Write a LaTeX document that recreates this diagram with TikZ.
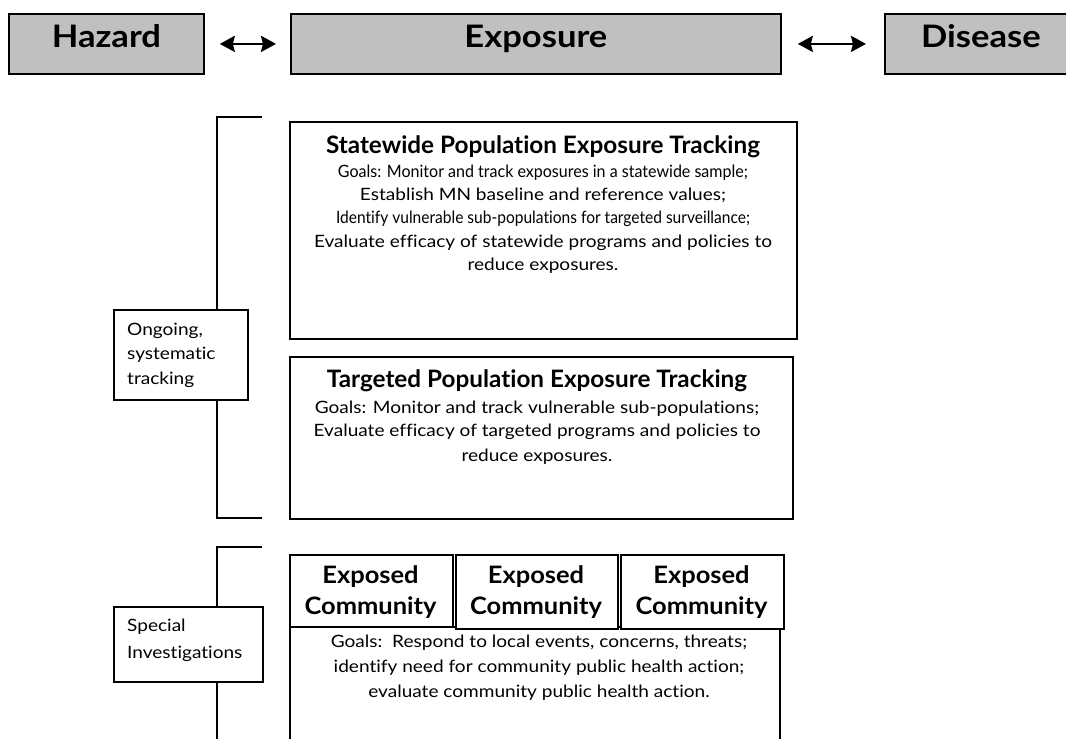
\documentclass[tikz,border=0pt]{standalone}
\usepackage{fontspec}
\setmainfont{Lato}[Ligatures=NoCommon]
\usepackage{graphicx}
\usetikzlibrary{arrows.meta}
\definecolor{topgray}{RGB}{192,192,192}
\newsavebox\measbx
\newlength\measw
\newcommand\bodyf{\fontsize{17}{20}\selectfont}
\newcommand\headf{\fontsize{24}{28}\selectfont\bfseries}
\newcommand\topf{\fontsize{31}{36}\selectfont\bfseries}
\newcommand\comf{\fontsize{24}{28}\selectfont\bfseries}
\newcommand\bl[1]{\scalebox{\bsx}[1]{\bodyf #1}}
\newcommand\hd[1]{\scalebox{\hsx}[1]{\headf #1}}
\newcommand\tp[1]{\scalebox{\tsx}[1]{\topf #1}}
\newcommand\cm[1]{\scalebox{\csx}[1]{\comf #1}}
\newcommand\fitl[2]{\resizebox{#1pt}{\height}{\bodyf #2}}
\newcommand\mksc[3]{\sbox\measbx{#2}\setlength\measw{\wd\measbx}\pgfmathparse{#3/\measw}\xdef#1{\pgfmathresult}}
\begin{document}
\mksc\bsx{\bodyf Evaluate efficacy of statewide programs and policies to}{458}%
\mksc\hsx{\headf Statewide Population Exposure Tracking}{434}%
\mksc\tsx{\topf Exposure}{143}%
\mksc\csx{\comf Community}{132}%
\begin{tikzpicture}[x=1pt,y=-1pt,
  topbox/.style={draw=black,line width=1.8pt,fill=topgray,anchor=north west,inner sep=0,text height=22pt,text depth=14pt},
  box/.style={draw=black,line width=1.5pt,fill=white,anchor=north west,inner sep=0},
  txt/.style={anchor=base,inner sep=0},
  ltxt/.style={anchor=base west,inner sep=0},
  link/.style={line width=2.7pt,{Stealth[length=15pt,width=16pt,inset=2pt]}-{Stealth[length=15pt,width=16pt,inset=2pt]}},
  brk/.style={line width=1.5pt}]
\useasboundingbox (0,0) rectangle (1066,739);
\fill[white] (0,0) rectangle (1066,739);

% top row
\node[topbox,minimum width=195pt,minimum height=60pt] (haz) at (8,13) {\tp{Hazard}};
\node[topbox,minimum width=490pt,minimum height=60pt] (exp) at (290,13) {\tp{Exposure}};
\node[topbox,minimum width=192pt,minimum height=60pt] (dis) at (884,13) {\tp{Disease}};
\draw[link] ([xshift=15pt]haz.east) -- ([xshift=-14pt]exp.west);
\draw[link] ([xshift=16pt]exp.east) -- ([xshift=-18pt]dis.west);

% brackets
\coordinate (b1t) at (262,117);
\coordinate (b1b) at (262,518);
\coordinate (b2t) at (262,547);
\coordinate (b2b) at (217,745);
\draw[brk] (b1t) -- (217,117) -- (217,518) -- (b1b);
\draw[brk] (b2t) -- (217,547) -- (b2b);

% side labels
\node[box,minimum width=134pt,minimum height=90pt] (ong) at (113,309) {};
\node[ltxt] (ong1) at (127,335) {\bl{Ongoing,}};
\node[ltxt] (ong2) at (127,359) {\bl{systematic}};
\node[ltxt] (ong3) at (127,384) {\bl{tracking}};
\node[box,minimum width=149pt,minimum height=75pt] (spc) at (113,606) {};
\node[ltxt] (spc1) at (127,631) {\bl{Special}};
\node[ltxt] (spc2) at (127,658) {\bl{Investigations}};

% statewide
\node[box,minimum width=507pt,minimum height=217pt] (sw) at (289,121) {};
\node[txt] (s0) at (543,153) {\hd{Statewide Population Exposure Tracking}};
\node[txt] (s1) at (543,177) {\fitl{410}{Goals: Monitor and track exposures in a statewide sample;}};
\node[txt] (s2) at (543,200) {\bl{Establish MN baseline and reference values;}};
\node[txt] (s3) at (543,223) {\fitl{414}{Identify vulnerable sub-populations for targeted surveillance;}};
\node[txt] (s4) at (543,247) {\bl{Evaluate efficacy of statewide programs and policies to}};
\node[txt] (s5) at (543,270) {\bl{reduce exposures.}};

% targeted
\node[box,minimum width=503pt,minimum height=162pt] (tg) at (289,356) {};
\node[txt] (t0) at (537,387) {\hd{Targeted Population Exposure Tracking}};
\node[txt] (t1) at (537,413) {\bl{Goals: Monitor and track vulnerable sub-populations;}};
\node[txt] (t2) at (537,436) {\bl{Evaluate efficacy of targeted programs and policies to}};
\node[txt] (t3) at (537,461) {\bl{reduce exposures.}};

% community
\node[box,minimum width=490pt,minimum height=134pt] (cg) at (289,626) {};
\node[box,minimum width=163pt,minimum height=72pt] (c1) at (289,554) {};
\node[box,minimum width=162pt,minimum height=74pt] (c2) at (455,554) {};
\node[box,minimum width=163pt,minimum height=74pt] (c3) at (620,554) {};
\node[txt] (c1a) at (370.5,583) {\cm{Exposed}};
\node[txt] (c1b) at (370.5,614) {\cm{Community}};
\node[txt] (c2a) at (536,583) {\cm{Exposed}};
\node[txt] (c2b) at (536,614) {\cm{Community}};
\node[txt] (c3a) at (701.5,583) {\cm{Exposed}};
\node[txt] (c3b) at (701.5,614) {\cm{Community}};
\node[txt] (g1) at (539,647) {\bl{Goals:\ \ Respond to local events, concerns, threats;}};
\node[txt] (g2) at (539,672) {\bl{identify need for community public health action;}};
\node[txt] (g3) at (539,697) {\bl{evaluate community public health action.}};
\end{tikzpicture}
\end{document}
